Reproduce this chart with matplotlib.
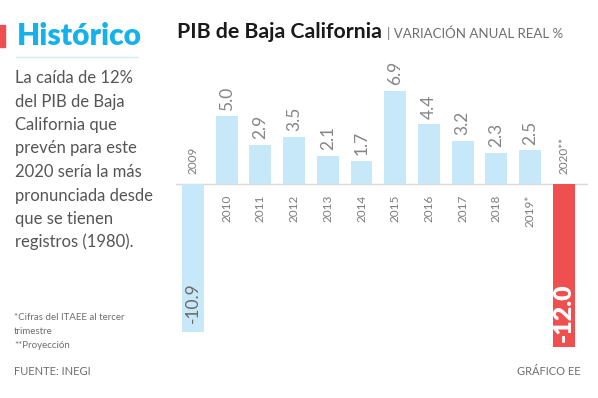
import matplotlib.pyplot as plt
from matplotlib.patches import Rectangle
from matplotlib.lines import Line2D

# datos
anios = ["2009", "2010", "2011", "2012", "2013", "2014", "2015", "2016",
         "2017", "2018", "2019*", "2020**"]
valores = [-10.9, 5.0, 2.9, 3.5, 2.1, 1.7, 6.9, 4.4, 3.2, 2.3, 2.5, -12.0]
etiquetas = ["-10.9", "5.0", "2.9", "3.5", "2.1", "1.7", "6.9", "4.4",
             "3.2", "2.3", "2.5", "-12.0"]

AZUL = "#c7e8f8"
ROJO = "#f04f4f"
CIAN = "#14b1ea"
GRIS = "#6e6e6e"

plt.rcParams['font.family'] = ['Lato', 'DejaVu Sans']

W, H = 598, 398
fig = plt.figure(figsize=(W / 100, H / 100), dpi=100)


def fx(px):
    return px / W


def fy(py):
    return 1 - py / H


# encabezado izquierdo
fig.patches.append(Rectangle((fx(0), fy(47)), fx(5), 22 / H, transform=fig.transFigure,
                             color=ROJO, zorder=3))
fig.text(fx(17), fy(36), "Histórico", color=CIAN, fontsize=21.5, fontweight='heavy',
         va='center', ha='left')
fig.lines.append(Line2D([fx(16), fx(138)], [fy(57), fy(57)], transform=fig.transFigure,
                        color="#cdeefa", lw=1))

texto = ["La caída de 12%", "del PIB de Baja", "California que", "prevén para este",
         "2020 sería la más", "pronunciada desde", "que se tienen", "registros (1980)."]
for i, linea in enumerate(texto):
    fig.text(fx(15), fy(83 + i * 23.5), linea, color="#555555", fontsize=12,
             va='baseline', ha='left')

fig.text(fx(14), fy(320), "*Cifras del ITAEE al tercer", color=GRIS, fontsize=7,
         va='baseline')
fig.text(fx(14), fy(334), "trimestre", color=GRIS, fontsize=7, va='baseline')
fig.text(fx(14), fy(348), "**Proyección", color=GRIS, fontsize=7, va='baseline')
fig.text(fx(14), fy(375), "FUENTE: INEGI", color=GRIS, fontsize=8, va='baseline')
fig.text(fx(581), fy(375), "GRÁFICO EE", color=GRIS, fontsize=8, va='baseline',
         ha='right')

# titulo grafico
fig.text(fx(177), fy(38), "PIB de Baja California", color="#1a1a1a", fontsize=15.3,
         fontweight='bold', va='baseline', ha='left')
fig.text(fx(387), fy(38), "| VARIACIÓN ANUAL REAL %", color=GRIS, fontsize=9.5,
         va='baseline', ha='left')

# barras
pitch = 33.7
c0 = 193
base = 184
esc = 13.55
top_px, bot_px = 60, 352
left_px, right_px = 176, 588
ax = fig.add_axes([fx(left_px), fy(bot_px), (right_px - left_px) / W, (bot_px - top_px) / H])
ax.set_xlim((left_px - c0) / pitch, (right_px - c0) / pitch)
ax.set_ylim(-(bot_px - base) / esc, (base - top_px) / esc)
ax.axis('off')

x = list(range(len(valores)))
colores = [AZUL] * (len(valores) - 1) + [ROJO]
ax.bar(x, valores, width=0.65, color=colores, zorder=2)
ax.axhline(0, color="#d9d9d9", lw=1, zorder=1)

for i, (v, e, a) in enumerate(zip(valores, etiquetas, anios)):
    if v > 0:
        ax.annotate(e, (i, v), xytext=(0, 4), textcoords='offset points', rotation=90,
                    ha='center', va='bottom', fontsize=12.5, color="#858585")
        ax.annotate(a, (i, 0), xytext=(0, -7.5), textcoords='offset points', rotation=90,
                    ha='center', va='top', fontsize=8.5, color="#7c7c7c")
    else:
        ax.annotate(a, (i, 0), xytext=(0, 7), textcoords='offset points', rotation=90,
                    ha='center', va='bottom', fontsize=8.5, color="#7c7c7c")
        if i == len(valores) - 1:
            ax.annotate(e, (i, v), xytext=(0, 3), textcoords='offset points', rotation=90,
                        ha='center', va='bottom', fontsize=18, color="white",
                        fontweight='heavy')
        else:
            ax.annotate(e, (i, v), xytext=(0, 6), textcoords='offset points', rotation=90,
                        ha='center', va='bottom', fontsize=12.5, color="#6a6a6a")

fig.savefig("out.png", dpi=100, facecolor='white')
